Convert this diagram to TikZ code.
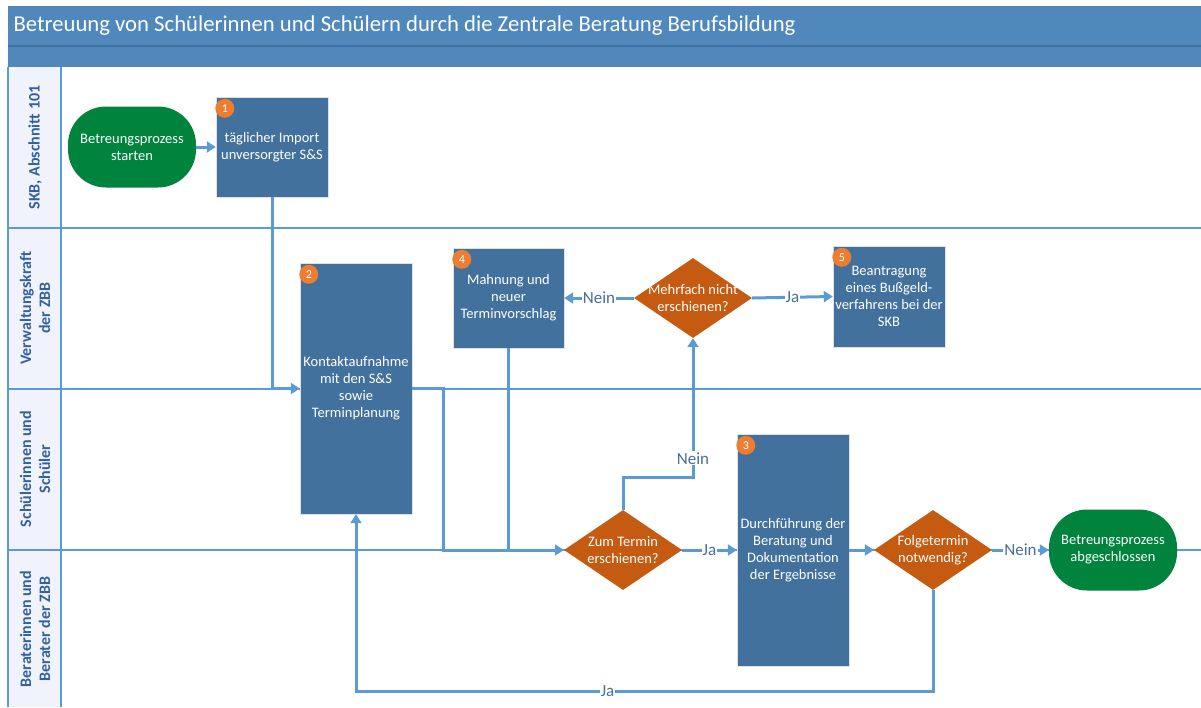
\documentclass[tikz,border=0pt]{standalone}
\usepackage{fontspec}
\setmainfont{Carlito}
\definecolor{bandblue}{RGB}{80,136,188}
\definecolor{bandline}{RGB}{62,112,160}
\definecolor{laneblue}{RGB}{91,155,213}
\definecolor{boxblue}{RGB}{65,113,156}
\definecolor{decorange}{RGB}{197,90,17}
\definecolor{badgeorange}{RGB}{237,125,49}
\definecolor{termgreen}{RGB}{0,132,61}
\definecolor{labelblue}{RGB}{50,96,160}
\definecolor{yesnoblue}{RGB}{72,112,152}
\definecolor{lanefill}{RGB}{240,243,251}
\usetikzlibrary{shapes.geometric,arrows.meta,positioning,calc}

\tikzset{
  task/.style={draw=black!12, fill=boxblue, text=white, align=center, inner sep=0pt,
    font=\fontsize{14.5}{17}\selectfont},
  decision/.style={diamond, fill=decorange, inner sep=0pt, minimum width=118pt, minimum height=80pt},
  asktext/.style={text=white, align=center, font=\fontsize{14.5}{17}\selectfont},
  terminal/.style={fill=termgreen, text=white, align=center, rounded corners=38pt,
    minimum width=128pt, minimum height=81pt, font=\fontsize{14.5}{17}\selectfont},
  badge/.style={circle, fill=badgeorange, text=white, inner sep=0pt, minimum size=19pt,
    font=\fontsize{12}{12}\selectfont},
  flow/.style={laneblue, line width=3pt, -{Triangle[length=9pt,width=11pt]}},
  link/.style={laneblue, line width=3pt},
  answer/.style={fill=white, text=yesnoblue, inner sep=1pt, font=\fontsize{17}{17}\selectfont},
  laneline/.style={laneblue, line width=2.2pt},
  lanetitle/.style={rotate=90, text=labelblue, align=center, font=\bfseries\fontsize{16}{19}\selectfont}
}

\begin{document}
\begin{tikzpicture}[x=1pt, y=-1pt]
        \useasboundingbox (0,0) rectangle (1201,707);

        % Title band
        \fill[bandblue] (8,6) rectangle (1201,67);
        \draw[bandline, line width=2pt] (8,46) -- (1201,46);
        \node[anchor=west, text=white, font=\fontsize{22.7}{22.7}\selectfont] (title) at (10,26)
            {Betreuung von Schülerinnen und Schülern durch die Zentrale Beratung Berufsbildung};

        % Lanes
        \fill[lanefill] (8,67) rectangle (61,707);
        \draw[laneline] (8,67) -- (8,707);
        \draw[laneline] (61,67) -- (61,707);
        \foreach \y in {228, 389, 550} {
            \draw[laneline] (8,\y) -- (1201,\y);
        }
        \node[lanetitle] (lane1) at (35,147.5) {SKB, Abschnitt 101};
        \node[lanetitle] (lane2) at (35,308) {Verwaltungskraft\\der ZBB};
        \node[lanetitle] (lane3) at (35,469) {Schülerinnen und\\Schüler};
        \node[lanetitle] (lane4) at (35,629) {Beraterinnen und\\Berater der ZBB};

        % Steps
        \node[terminal] (start) at (132,147) {Betreungsprozess\\starten};
        \node[task, minimum width=112pt, minimum height=100pt] (box1) at (272,147) {täglicher Import\\unversorgter S\&S};
        \node[task, minimum width=112pt, minimum height=251pt] (box2) at (356,388.5) {Kontaktaufnahme\\mit den S\&S\\sowie\\Terminplanung};
        \node[task, minimum width=111pt, minimum height=100pt] (box4) at (508.5,298) {Mahnung und\\neuer\\Terminvorschlag};
        \node[decision, label={[asktext]center:Mehrfach nicht\\erschienen?}] (mehr) at (693,298) {};
        \node[task, minimum width=112pt, minimum height=101pt] (box5) at (889,296.5) {Beantragung\\eines Bußgeld-\\verfahrens bei der\\SKB};
        \node[decision, label={[asktext]center:Zum Termin\\erschienen?}] (zum) at (623,550) {};
        \node[task, minimum width=112pt, minimum height=232pt] (box3) at (793,550) {Durchführung der\\Beratung und\\Dokumentation\\der Ergebnisse};
        \node[decision, label={[asktext]center:Folgetermin\\notwendig?}] (folge) at (933,550) {};
        \node[terminal] (stop) at (1113,550) {Betreungsprozess\\abgeschlossen};

        % Step numbers
        \node[badge] (n1) at ([shift={(9,11.5)}]box1.north west) {1};
        \node[badge] (n2) at ([shift={(9,11.5)}]box2.north west) {2};
        \node[badge] (n3) at ([shift={(9,11.5)}]box3.north west) {3};
        \node[badge] (n4) at ([shift={(9,11.5)}]box4.north west) {4};
        \node[badge] (n5) at ([shift={(9,11.5)}]box5.north west) {5};

        % Connectors
        \draw[flow] (start) -- (box1);
        \draw[flow] (box1.south) |- (box2.west);
        \draw[flow] (box2.east) -- ++(31,0) |- (zum.west);
        \draw[link] (box4.south) -- (box4.south |- zum.west);
        \draw[flow] (zum.north) -- ++(0,-32) -| node[answer, pos=0.57] {Nein} (mehr.south);
        \draw[flow] (mehr.west) -- node[answer] {Nein} (box4.east);
        \draw[flow] (mehr.east) -- node[answer] {Ja} (box5.west);
        \draw[flow] (zum.east) -- node[answer] {Ja} (box3.west);
        \draw[flow] (box3.east) -- (folge.west);
        \draw[flow] (folge.east) -- node[answer] {Nein} (stop.west);
        \draw[flow] (folge.south) -- ++(0,101) -| node[answer, pos=0.282] {Ja} (box2.south);
    \end{tikzpicture}
\end{document}
